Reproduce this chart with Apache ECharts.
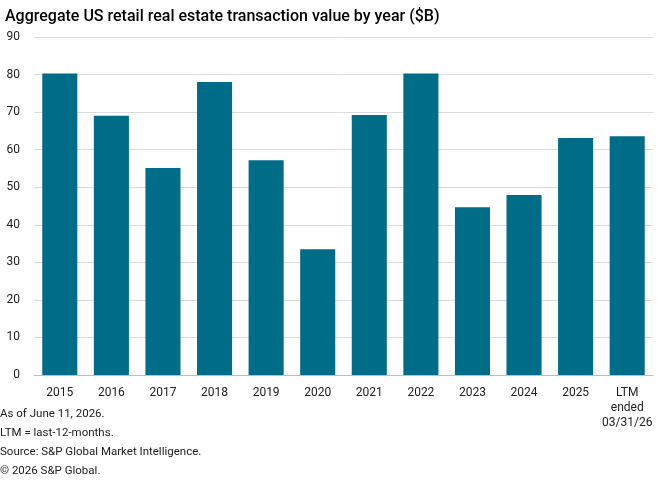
<!DOCTYPE html>
<html>
<head>
<meta charset="utf-8">
<script src="https://cdn.jsdelivr.net/npm/echarts@6/dist/echarts.min.js"></script>
<style>
html,body{margin:0;padding:0;background:#fff;}
#main{width:662px;height:480px;}
</style>
</head>
<body>
<div id="main"></div>
<script>
// 类目和数值
var categories = ['2015','2016','2017','2018','2019','2020','2021','2022','2023','2024','2025','LTM\nended\n03/31/26'];
var values = [80.3, 69.0, 55.1, 78.0, 57.2, 33.5, 69.2, 80.3, 44.7, 47.9, 63.1, 63.6];
var notes = ['As of June 11, 2026.', 'LTM = last-12-months.', 'Source: S&P Global Market Intelligence.', '\u00a9 2026 S&P Global.'];

var fontName = 'Roboto, sans-serif';

var myChart = echarts.init(document.getElementById('main'));

var noteTexts = [];
for (var i = 0; i < notes.length; i++) {
    noteTexts.push({
        type: 'text',
        left: 0,
        top: 408 + i * 19,
        style: { text: notes[i], fill: '#222', font: '11.5px ' + fontName }
    });
}

var option = {
    animation: false,
    title: {
        text: 'Aggregate US retail real estate transaction value by year ($B)',
        left: 0,
        top: 4,
        textStyle: { fontFamily: fontName, fontSize: 16, fontWeight: 500, color: '#000' }
    },
    grid: { left: 34, right: 9, top: 37, bottom: 105, containLabel: false, outerBoundsMode: 'none' },
    xAxis: {
        type: 'category',
        data: categories,
        axisLine: { lineStyle: { color: '#bdbdbd', width: 1 } },
        axisTick: { show: false },
        axisLabel: { color: '#222', fontFamily: fontName, fontSize: 12, margin: 10, lineHeight: 15, interval: 0 }
    },
    yAxis: {
        type: 'value',
        min: 0,
        max: 90,
        interval: 10,
        axisLine: { show: false },
        axisTick: { show: false },
        splitLine: { lineStyle: { color: '#dcdcdc', width: 1 } },
        axisLabel: { color: '#222', fontFamily: fontName, fontSize: 12, margin: 14 }
    },
    series: [{
        type: 'bar',
        data: values,
        barWidth: '68%',
        itemStyle: { color: '#006d88' }
    }],
    graphic: noteTexts
};

myChart.setOption(option);
</script>
</body>
</html>
